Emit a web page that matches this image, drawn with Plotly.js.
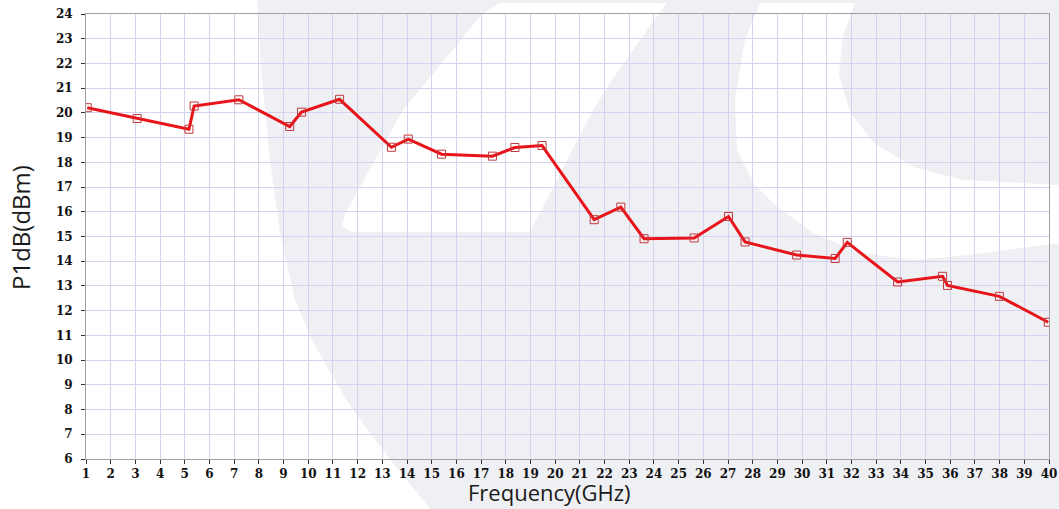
<!DOCTYPE html>
<html>
<head>
<meta charset="utf-8">
<script src="https://cdn.plot.ly/plotly-3.0.1.min.js"></script>
<style>html,body{margin:0;padding:0;background:#fff;}#chart{width:1059px;height:509px;}</style>
</head>
<body>
<div id="chart"></div>
<script>
// Data
const frequencyGHz = [1.05, 3.07, 5.17, 5.38, 7.19, 9.25, 9.73, 11.27, 13.37, 14.05, 15.40, 17.46, 18.37, 19.47, 21.58, 22.66, 23.60, 25.63, 27.02, 27.69, 29.78, 31.34, 31.83, 33.87, 35.69, 35.89, 37.99, 39.97];
const p1dB = [20.21, 19.77, 19.34, 20.28, 20.53, 19.45, 20.03, 20.55, 18.61, 18.94, 18.33, 18.25, 18.60, 18.68, 15.68, 16.19, 14.91, 14.94, 15.81, 14.78, 14.25, 14.11, 14.76, 13.16, 13.39, 13.02, 12.58, 11.53];
const xTickVals = [1,2,3,4,5,6,7,8,9,10,11,12,13,14,15,16,17,18,19,20,21,22,23,24,25,26,27,28,29,30,31,32,33,34,35,36,37,38,39,40];
const yTickVals = [6,7,8,9,10,11,12,13,14,15,16,17,18,19,20,21,22,23,24];
const xTitle = "Frequency(GHz)";
const yTitle = "P1dB(dBm)";

// layout geometry (pixels)
const W = 1059, H = 509;
const M = {l: 86, r: 10, t: 14, b: 50};
const PW = W - M.l - M.r, PH = H - M.t - M.b;
function px(x){ return +((x - M.l) / PW).toFixed(4); }
function py(y){ return +((H - M.b - y) / PH).toFixed(4); }
function poly(pts){
  return 'M ' + pts.map(p => px(p[0]) + ',' + py(p[1])).join(' L ') + ' Z';
}
// background watermark decoration
const grayPts = [[257,-2],[262,80],[270,160],[280,233],[295,300],[312,340],[327,367],[350,405],[370,433],[400,472],[432,511],[1061,511],[1061,-2]];
const slashPts = [[500,3],[482,14],[465,35],[403,110],[346,212],[342,226],[352,232],[530,232],[593,110],[612,80],[640,40],[667,3]];
const crescentPts = [[760,3],[745,40],[735,100],[737,150],[755,185],[775,205],[813,233],[857,252],[913,260],[960,256],[1061,243],
                     [1061,185],[963,180],[913,167],[873,142],[850,112],[839,75],[843,35],[855,3]];
const gray = '#eff0f4';
const shapes = [
  {type:'path', xref:'paper', yref:'paper', layer:'below', path: poly(grayPts), fillcolor: gray, line:{width:0}},
  {type:'path', xref:'paper', yref:'paper', layer:'below', path: poly(slashPts), fillcolor: '#ffffff', line:{width:0}},
  {type:'path', xref:'paper', yref:'paper', layer:'below', path: poly(crescentPts), fillcolor: '#ffffff', line:{width:0}}
];

const trace = {
  x: frequencyGHz, y: p1dB, type: 'scatter', mode: 'lines+markers',
  line: {color: '#e8141a', width: 3},
  marker: {symbol: 'square-open', size: 8, color: '#c0393b', line: {width: 1, color: '#c0393b'}},
  hoverinfo: 'x+y', showlegend: false
};

const tickFont = {family: '"DejaVu Serif", "Liberation Serif", serif', size: 12, color: '#111', weight: 'bold'};
const titleFont = {family: '"Open Sans", "Noto Sans", sans-serif', size: 22, color: '#1a1a1a'};
const layout = {
  width: W, height: H,
  margin: M,
  paper_bgcolor: '#ffffff',
  plot_bgcolor: 'rgba(0,0,0,0)',
  shapes: shapes,
  xaxis: {
    range: [1, 40], tickvals: xTickVals, ticktext: xTickVals.map(String),
    showgrid: true, gridcolor: '#d6d2ee', gridwidth: 1,
    showline: true, linecolor: '#a0a0a0', linewidth: 1, mirror: true,
    ticks: 'outside', ticklen: 4, tickcolor: '#333', tickwidth: 1,
    tickfont: tickFont, zeroline: false, automargin: false
  },
  yaxis: {
    range: [6, 24], tickvals: yTickVals, ticktext: yTickVals.map(String),
    showgrid: true, gridcolor: '#d6d2ee', gridwidth: 1,
    showline: true, linecolor: '#a0a0a0', linewidth: 1, mirror: true,
    ticks: 'outside', ticklen: 4, tickcolor: '#333', tickwidth: 1,
    ticklabelstandoff: 6,
    tickfont: tickFont, zeroline: false, automargin: false
  },
  annotations: [
    {text: xTitle, xref: 'paper', yref: 'paper', x: px(550), y: py(508), xanchor: 'center', yanchor: 'bottom',
     showarrow: false, font: titleFont, borderpad: 0},
    {text: yTitle, xref: 'paper', yref: 'paper', x: px(20), y: py(228), xanchor: 'center', yanchor: 'middle',
     textangle: -90, showarrow: false, font: Object.assign({}, titleFont, {size: 24})}
  ]
};

Plotly.newPlot('chart', [trace], layout, {staticPlot: true, displayModeBar: false});
</script>
</body>
</html>
